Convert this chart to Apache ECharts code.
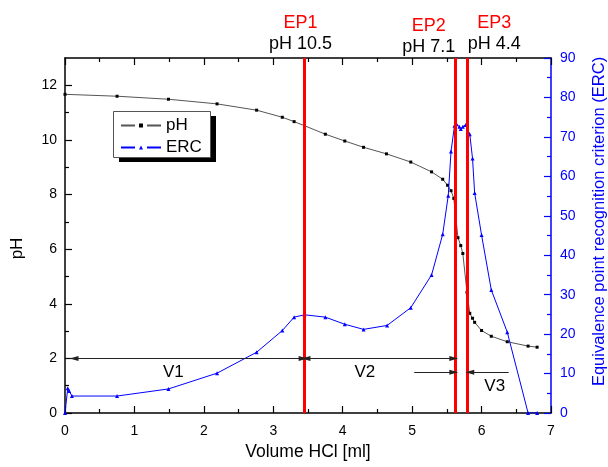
<!DOCTYPE html>
<html>
<head>
<meta charset="utf-8">
<script src="https://cdn.jsdelivr.net/npm/echarts@6/dist/echarts.min.js"></script>
<style>
  html, body { margin: 0; padding: 0; background: #ffffff; }
  #chart { width: 608px; height: 467px; }
</style>
</head>
<body>
<div id="chart"></div>
<script>
// Titration curve: pH against added HCl volume
const phVolume = [0, 0.75, 1.49, 2.19, 2.76, 3.13, 3.30, 3.45, 3.75, 4.03, 4.30, 4.63, 4.98, 5.28, 5.44, 5.51, 5.56, 5.60, 5.66, 5.70, 5.73, 5.79, 5.83, 5.87, 5.90, 6.00, 6.14, 6.37, 6.67, 6.80];
const phValues = [11.67, 11.60, 11.49, 11.32, 11.09, 10.83, 10.67, 10.52, 10.21, 9.96, 9.73, 9.49, 9.19, 8.83, 8.56, 8.34, 8.14, 7.86, 6.42, 6.13, 5.84, 4.42, 3.65, 3.47, 3.32, 3.02, 2.81, 2.61, 2.45, 2.41];

// Equivalence point recognition criterion
const ercVolume = [0, 0.04, 0.06, 0.10, 0.75, 1.49, 2.19, 2.76, 3.13, 3.30, 3.45, 3.75, 4.03, 4.30, 4.64, 4.98, 5.28, 5.44, 5.52, 5.56, 5.61, 5.64, 5.68, 5.70, 5.73, 5.77, 5.83, 5.87, 5.90, 6.00, 6.14, 6.37, 6.67, 6.80];
const ercValues = [0, 6.3, 5.6, 4.3, 4.3, 6.1, 10.1, 15.4, 20.9, 24.3, 24.9, 24.3, 22.5, 21.2, 22.2, 26.7, 35.0, 45.3, 55.1, 66.3, 72.8, 73.2, 72.6, 72.0, 72.6, 73.0, 70.7, 64.5, 55.8, 45.1, 31.2, 20.5, 0, 0];

// Equivalence points
const endpointNames = ['EP1', 'EP2', 'EP3'];
const endpointVolume = [3.45, 5.62, 5.80];
const endpointPH = ['10.5', '7.1', '4.4'];

// Volume segments between the equivalence points
const segmentNames = ['V1', 'V2', 'V3'];
const v1Range = [0.13, 3.43];
const v2Range = [3.47, 5.60];
const v3Range = [5.03, 5.60, 5.83, 6.39];
const segmentArrowPH = [2, 2, 1.49];
const segmentLabelVolume = [1.56, 4.32, 6.19];
const segmentLabelPH = [1.5, 1.5, 0.96];

// Axis ticks
const phMajorTicks = [0, 2, 4, 6, 8, 10, 12];
const phMinorTicks = [1, 3, 5, 7, 9, 11];
const volumeRange = [0, 7];
const phRange = [0, 13];
const ercRange = [0, 90];

const FONT = '"Liberation Sans", Arial, sans-serif';
const BLUE = '#0000ff';
const RED = '#ff0000';

const chart = echarts.init(document.getElementById('chart'), null, { renderer: 'canvas' });

const pairs = (xs, ys) => xs.map((x, i) => [x, ys[i]]);

const arrowEnd = { symbol: 'triangle', symbolSize: [5, 9] };
const noEnd = { symbol: 'none' };
const arrowStyle = { color: '#222', width: 1, type: 'solid' };

const sharedXAxis = {
  type: 'value',
  min: volumeRange[0],
  max: volumeRange[1],
  interval: 1,
  axisLine: { show: true, onZero: false, lineStyle: { color: '#000', width: 1.5 } },
  axisTick: { show: true, inside: true, length: 7, lineStyle: { color: '#000', width: 1.2 } },
  minorTick: { show: true, splitNumber: 2, length: 4, lineStyle: { color: '#000', width: 1.2 } },
  splitLine: { show: false },
  minorSplitLine: { show: false }
};

// legend frame with a hard drop shadow
const legendBox = { x: 113, y: 111, width: 97, height: 46 };
const legendShadowOffset = [6, 5];

const option = {
  backgroundColor: '#ffffff',
  animation: false,
  textStyle: { fontFamily: FONT },
  grid: { left: 65, right: 57, top: 58, bottom: 54, containLabel: false, outerBoundsMode: 'none' },
  graphic: [
    {
      type: 'rect',
      z: 5,
      silent: true,
      shape: {
        x: legendBox.x + legendShadowOffset[0],
        y: legendBox.y + legendShadowOffset[1],
        width: legendBox.width,
        height: legendBox.height
      },
      style: { fill: '#000' }
    },
    {
      type: 'rect',
      z: 6,
      silent: true,
      shape: { x: legendBox.x + 0.5, y: legendBox.y + 0.5, width: legendBox.width, height: legendBox.height },
      style: { fill: '#fff', stroke: '#555', lineWidth: 1 }
    }
  ],
  legend: {
    data: ['pH', 'ERC'],
    orient: 'vertical',
    left: legendBox.x,
    top: legendBox.y,
    z: 7,
    padding: [6, 8, 4, 7],
    itemGap: 5,
    itemWidth: 40,
    itemHeight: 5,
    selectedMode: false,
    lineStyle: { type: [14, 12] },
    textStyle: { fontSize: 17, color: '#000', fontFamily: FONT }
  },
  xAxis: [
    Object.assign({}, sharedXAxis, {
      position: 'bottom',
      name: 'Volume HCl [ml]',
      nameLocation: 'middle',
      nameGap: 23,
      nameTextStyle: { fontSize: 17.5, color: '#000', fontFamily: FONT },
      axisLabel: { show: true, margin: 11, fontSize: 14, color: '#000', fontFamily: FONT }
    }),
    Object.assign({}, sharedXAxis, {
      position: 'top',
      axisLabel: { show: false }
    })
  ],
  yAxis: [
    {
      type: 'value',
      position: 'left',
      min: phRange[0],
      max: phRange[1],
      interval: 2,
      name: 'pH',
      nameLocation: 'middle',
      nameGap: 39,
      nameTextStyle: { fontSize: 17, color: '#000', fontFamily: FONT, padding: [0, 26, 0, 0] },
      axisLine: { show: true, onZero: false, lineStyle: { color: '#000', width: 1.5 } },
      axisTick: { show: true, inside: true, length: 7, customValues: phMajorTicks, lineStyle: { color: '#000', width: 1.2 } },
      axisLabel: { show: true, margin: 8, fontSize: 14, color: '#000', fontFamily: FONT, customValues: phMajorTicks },
      splitLine: { show: false }
    },
    {
      type: 'value',
      position: 'right',
      min: ercRange[0],
      max: ercRange[1],
      interval: 10,
      name: 'Equivalence point recognition criterion (ERC)',
      nameLocation: 'middle',
      nameGap: 40,
      nameTextStyle: { fontSize: 16.5, color: BLUE, fontFamily: FONT, padding: [0, 0, 0, 28] },
      axisLine: { show: true, onZero: false, lineStyle: { color: BLUE, width: 1.5 } },
      axisTick: { show: true, inside: true, length: 7, lineStyle: { color: BLUE, width: 1.2 } },
      minorTick: { show: true, splitNumber: 2, length: 4, lineStyle: { color: BLUE, width: 1.2 } },
      axisLabel: { show: true, margin: 9, fontSize: 14, color: BLUE, fontFamily: FONT },
      splitLine: { show: false },
      minorSplitLine: { show: false }
    },
    {
      // odd pH values as short inner ticks
      type: 'value',
      position: 'left',
      min: phRange[0],
      max: phRange[1],
      interval: 1,
      axisLine: { show: false, onZero: false },
      axisTick: { show: true, inside: true, length: 4, customValues: phMinorTicks, lineStyle: { color: '#000', width: 1.2 } },
      axisLabel: { show: false },
      splitLine: { show: false }
    }
  ],
  series: [
    {
      name: 'pH',
      type: 'line',
      xAxisIndex: 0,
      yAxisIndex: 0,
      data: pairs(phVolume, phValues),
      symbol: 'rect',
      symbolSize: 3,
      showAllSymbol: true,
      lineStyle: { color: '#555', width: 1 },
      itemStyle: { color: '#000' },
      z: 3
    },
    {
      name: 'ERC',
      type: 'line',
      xAxisIndex: 0,
      yAxisIndex: 1,
      data: pairs(ercVolume, ercValues),
      symbol: 'triangle',
      symbolSize: 4,
      showAllSymbol: true,
      lineStyle: { color: BLUE, width: 1 },
      itemStyle: { color: BLUE },
      z: 4
    },
    {
      name: 'markers',
      type: 'line',
      xAxisIndex: 0,
      yAxisIndex: 0,
      data: [],
      silent: true,
      markLine: {
        silent: true,
        animation: false,
        symbol: ['none', 'none'],
        precision: 3,
        data: [
          ...endpointVolume.map((v, i) => ({
            xAxis: v,
            lineStyle: { color: RED, width: 3, type: 'solid' },
            label: {
              show: true,
              position: 'end',
              distance: [3, 0, 3][i],
              align: ['center', 'right', 'left'][i],
              padding: i === 0 ? [0, 8, 0, 0] : 0,
              formatter: '{ep|' + endpointNames[i] + '}\n{ph|pH ' + endpointPH[i] + '}',
              rich: {
                ep: { color: RED, fontSize: 18, lineHeight: 21, fontFamily: FONT, align: 'center' },
                ph: { color: '#000', fontSize: 18, lineHeight: 21, fontFamily: FONT, align: 'center' }
              }
            }
          })),
          [
            Object.assign({ coord: [v1Range[0], segmentArrowPH[0]] }, arrowEnd),
            Object.assign({ coord: [v1Range[1], segmentArrowPH[0]], lineStyle: arrowStyle, label: { show: false } }, arrowEnd)
          ],
          [
            Object.assign({ coord: [v2Range[0], segmentArrowPH[1]] }, arrowEnd),
            Object.assign({ coord: [v2Range[1], segmentArrowPH[1]], lineStyle: arrowStyle, label: { show: false } }, arrowEnd)
          ],
          [
            Object.assign({ coord: [v3Range[0], segmentArrowPH[2]] }, noEnd),
            Object.assign({ coord: [v3Range[1], segmentArrowPH[2]], lineStyle: arrowStyle, label: { show: false } }, arrowEnd)
          ],
          [
            Object.assign({ coord: [v3Range[3], segmentArrowPH[2]] }, noEnd),
            Object.assign({ coord: [v3Range[2], segmentArrowPH[2]], lineStyle: arrowStyle, label: { show: false } }, arrowEnd)
          ]
        ]
      },
      markPoint: {
        silent: true,
        animation: false,
        symbol: 'circle',
        symbolSize: 0,
        label: { show: true, position: 'inside', fontSize: 17, color: '#000', fontFamily: FONT },
        data: segmentNames.map((n, i) => ({
          coord: [segmentLabelVolume[i], segmentLabelPH[i]],
          value: n,
          label: { formatter: n }
        }))
      }
    }
  ]
};

chart.setOption(option);
</script>
</body>
</html>
